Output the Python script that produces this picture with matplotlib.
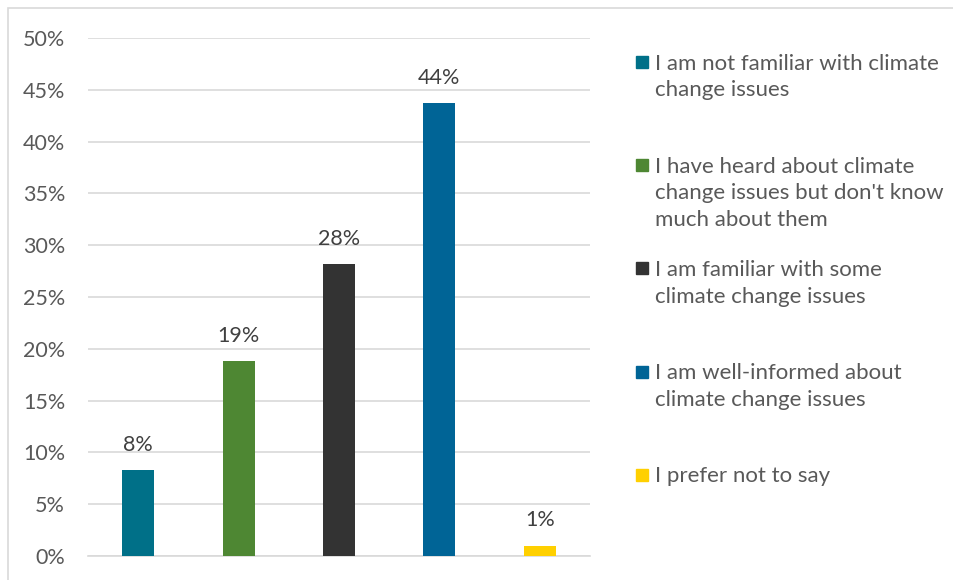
import matplotlib.pyplot as plt
from matplotlib.patches import Rectangle
from matplotlib.ticker import PercentFormatter

# datos del gráfico
categorias = [
    "I am not familiar with climate\nchange issues",
    "I have heard about climate\nchange issues but don't know\nmuch about them",
    "I am familiar with some\nclimate change issues",
    "I am well-informed about\nclimate change issues",
    "I prefer not to say",
]
valores = [8.3, 18.8, 28.2, 43.7, 1.0]
etiquetas = ["8%", "19%", "28%", "44%", "1%"]
colores = ["#007088", "#4e8733", "#333333", "#006496", "#ffd000"]

plt.rcParams['font.family'] = ['Lato', 'DejaVu Sans']
gris = "#595959"
fs = 15.5

fig = plt.figure(figsize=(9.54, 5.8), dpi=100)
W, H = 954, 580
ax = fig.add_axes([88 / W, (H - 556) / H, (590 - 88) / W, (556 - 38) / H])

x = range(len(valores))
ax.bar(x, valores, width=0.32, color=colores, zorder=3)

# etiquetas de datos
for i, (v, t) in enumerate(zip(valores, etiquetas)):
    ax.annotate(t, (i, v), xytext=(0, 11), textcoords="offset points",
                ha="center", va="bottom", fontsize=fs, color="#404040")

ax.set_xlim(-0.5, 4.5)
ax.set_ylim(0, 50)
ax.set_yticks(range(0, 51, 5))
ax.yaxis.set_major_formatter(PercentFormatter(decimals=0))
ax.tick_params(axis="y", length=0, pad=16.5, labelsize=fs, labelcolor=gris)
ax.set_xticks([])
ax.grid(axis="y", color="#d9d9d9", linewidth=1.2, zorder=0)
for s in ["top", "right", "left"]:
    ax.spines[s].set_visible(False)
ax.spines["bottom"].set_color("#d9d9d9")
ax.spines["bottom"].set_linewidth(1.2)

# leyenda manual
for i, (lab, c) in enumerate(zip(categorias, colores)):
    y_top = 62 + 103.25 * i
    fig.patches.append(Rectangle((636 / W, 1 - (y_top + 6) / H), 12 / W, 12 / H,
                                 transform=fig.transFigure, color=c))
    fig.text(655 / W, 1 - (y_top - 8.5) / H, lab, ha="left", va="top",
             fontsize=16, color=gris, linespacing=1.41)

# borde de la figura
fig.patches.append(Rectangle((8 / W, -0.01), 1.0, 1 - 8 / H + 0.01,
                             transform=fig.transFigure, fill=False,
                             edgecolor="#d9d9d9", linewidth=1.2))

fig.savefig("out.png", dpi=100)
